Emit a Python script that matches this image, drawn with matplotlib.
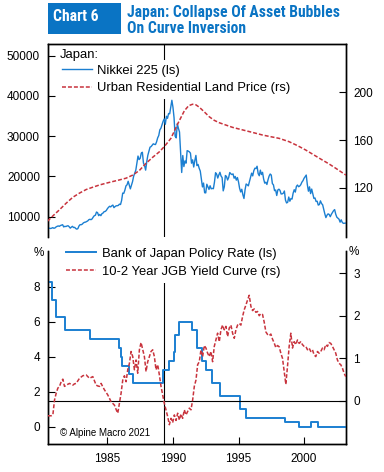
import os
import matplotlib
matplotlib.use("Agg")
import matplotlib.pyplot as plt
from matplotlib import font_manager as fm
from matplotlib.patches import Rectangle
import numpy as np

names = {f.name for f in fm.fontManager.ttflist}
BASE = "Liberation Sans" if "Liberation Sans" in names else "DejaVu Sans"
plt.rcParams['font.family'] = [BASE, 'DejaVu Sans']


def find_condensed_bold():
    files = set(f.fname for f in fm.fontManager.ttflist)
    try:
        files |= set(fm.findSystemFonts())
    except Exception:
        pass
    files = sorted(files)
    prefs = ["liberationsansnarrow-bold.", "notosans-condensedbold.", "opensans-condensedbold.",
             "opensans_condensed-bold.", "robotocondensed-bold.", "roboto-condensedbold.",
             "notosans-semicondensedbold.", "opensans-semicondensedbold.",
             "dejavusanscondensed-bold."]
    for p in prefs:
        for fn in files:
            if os.path.basename(fn).lower().startswith(p):
                return fn
    for fn in files:
        b = os.path.basename(fn).lower()
        if ("narrow" in b or "condensed" in b) and "bold" in b and "semibold" not in b \
                and "extra" not in b and "italic" not in b and "oblique" not in b:
            return fn
    return None


COND_FILE = find_condensed_bold()

# ---------------- data ----------------
# Nikkei 225, monthly from June 1980 to March 2003
nikkei = [
    7000, 7080, 7130, 7060, 7150, 7280, 7116,
    7200, 7450, 7600, 7700, 7600, 7800, 7900, 8000, 7450, 7600, 7550, 7682,
    7750, 7500, 7150, 7400, 7600, 7300, 7350, 7050, 6900, 7050, 7700, 8017,
    8000, 8150, 8450, 8600, 8650, 8800, 8950, 9250, 9350, 9250, 9450, 9894,
    10250, 10350, 11150, 11000, 10250, 10550, 10250, 10750, 10900, 11250, 11300, 11543,
    11990, 12320, 12580, 12430, 12700, 12880, 12240, 12510, 12700, 12720, 12800, 13113,
    13020, 14030, 15860, 15800, 16600, 17650, 17930, 18790, 17850, 16910, 17850, 18701,
    20030, 20770, 21570, 23270, 25060, 24180, 24490, 25780, 26010, 23330, 22690, 21564,
    23620, 25240, 26260, 27260, 27420, 27770, 28100, 27970, 27920, 28590, 29580, 30159,
    31580, 31990, 32840, 33710, 34270, 32950, 34950, 34430, 35640, 35550, 37270, 38916,
    37190, 34590, 29980, 29580, 33130, 31940, 31040, 25980, 20980, 25190, 22450, 23849,
    23290, 26410, 26290, 26110, 25790, 23290, 24120, 22340, 23920, 25220, 22690, 22984,
    22020, 21340, 19350, 17390, 18350, 15950, 15910, 18060, 17400, 16770, 17680, 16925,
    17020, 16950, 18590, 20920, 20550, 19590, 20380, 21030, 20110, 19700, 16410, 17417,
    20230, 19990, 19110, 19730, 20970, 20640, 20460, 20630, 19560, 19990, 19080, 19723,
    18650, 17050, 16140, 16810, 15440, 14520, 16680, 18120, 17910, 17650, 18740, 19868,
    20810, 20130, 21410, 22040, 21960, 22530, 20690, 20170, 21560, 20470, 21020, 19361,
    18330, 18560, 18000, 19150, 20070, 20600, 20330, 18230, 17890, 16460, 16630, 15259,
    16630, 16830, 16530, 15640, 15670, 15830, 16380, 14110, 13410, 13560, 14880, 13842,
    14500, 14370, 15840, 16700, 16110, 17530, 17860, 17440, 17600, 17940, 18560, 18934,
    19540, 19960, 20340, 17970, 16330, 17410, 15730, 16860, 15750, 14540, 14650, 13786,
    13840, 12880, 13000, 13930, 13260, 12970, 11860, 10710, 9770, 10370, 10700, 10543,
    10000, 10590, 11025, 11490, 11760, 10620, 9880, 9620, 9380, 8640, 9220, 8579,
    8340, 8360, 8400,
]
nikkei_start = 1980 + 5 / 12.0
nikkei_dates = nikkei_start + np.arange(len(nikkei)) / 12.0

# Urban residential land price index
land_dates = [1980.43, 1980.9, 1981.34, 1981.85, 1982.36, 1982.87, 1983.38, 1983.9,
              1984.39, 1984.9, 1985.41, 1985.9, 1986.42, 1986.93, 1987.44, 1987.95,
              1988.45, 1988.95, 1989.34, 1989.85, 1990.36, 1990.87, 1991.2, 1991.5,
              1991.75, 1992.01, 1992.4, 1992.77, 1993.15, 1993.53, 1994.05, 1994.55,
              1995.05, 1995.56, 1996.2, 1996.83, 1997.45, 1998.1, 1998.86, 1999.5,
              2000.13, 2000.75, 2001.4, 2001.9, 2002.42, 2002.8, 2003.2]
land = [92, 97, 101.5, 107, 112, 115.5, 118.5, 120.5,
        122.3, 123.8, 125.2, 126.5, 128, 130.6, 134.5, 140.5,
        145.5, 150, 154.5, 161.5, 173.5, 184.5, 188.8, 190,
        189.5, 187.5, 183.5, 179.5, 176.5, 174.5, 172.5, 170.6,
        169.2, 167.8, 166, 164.2, 162.8, 161.4, 158.6, 155.3,
        151.6, 147.5, 143.2, 140, 136.3, 133.5, 130.6]

# Bank of Japan policy rate (step changes)
policy_dates = [1980.43, 1980.5, 1980.77, 1981.09, 1981.78, 1983.68, 1985.89, 1986.02,
                1986.15, 1986.62, 1986.98, 1989.23, 1989.7, 1990.05, 1990.18, 1990.49,
                1991.43, 1991.81, 1992.19, 1992.49, 1992.95, 1993.56, 1995.11, 1995.56,
                1998.56, 1999.63, 2000.51, 2001.05, 2003.2]
policy = [9.0, 8.25, 7.25, 6.25, 5.5, 5.0, 4.5, 4.0,
          3.5, 3.0, 2.5, 3.25, 3.75, 4.25, 5.25, 6.0,
          5.5, 4.5, 3.75, 3.25, 2.5, 1.75, 1.0, 0.5,
          0.25, 0.0, 0.25, 0.0, 0.0]

# 10-2 year JGB yield curve, sampled every ~1.5 months from 1980.46
yc_start, yc_step = 1980.458, 0.12694
yc = [-0.35, -0.35, -0.35, -0.33, 0.02, 0.18, 0.30, 0.34, 0.45, 0.51,
      0.34, 0.37, 0.39, 0.41, 0.39, 0.37, 0.40, 0.41, 0.47, 0.53,
      0.56, 0.59, 0.60, 0.61, 0.57, 0.53, 0.55, 0.57, 0.47, 0.37,
      0.35, 0.34, 0.41, 0.33, 0.26, 0.20, 0.14, 0.06, -0.02, -0.06,
      -0.10, -0.20, -0.29, -0.06, 0.18, 0.49, 0.59, 0.45, 0.73, 0.88,
      1.16, 1.04, 0.73, 0.96, 0.65, 1.20, 1.37, 1.20, 1.04, 0.69,
      0.92, 1.04, 1.16, 1.20, 1.04, 0.73, 0.85, 0.61, 0.34, 0.14,
      -0.06, -0.21, -0.37, -0.56, -0.41, -0.51, -0.33, -0.46, -0.29, -0.45,
      -0.31, -0.41, -0.21, -0.33, -0.25, -0.17, -0.21, 0.02, 0.34, 0.49,
      0.85, 0.92, 1.20, 1.04, 1.30, 1.24, 1.12, 1.04, 1.16, 0.92,
      1.28, 1.43, 1.59, 1.39, 1.67, 1.78, 1.67, 1.75, 1.51, 1.71,
      1.78, 1.59, 1.47, 1.67, 1.78, 1.82, 1.78, 1.98, 2.14, 2.25,
      2.37, 2.48, 2.22, 2.12, 2.16, 2.08, 2.10, 2.00, 2.05, 2.03,
      1.85, 1.62, 1.56, 1.53, 1.57, 1.45, 1.36, 1.25, 1.30, 1.27,
      1.12, 1.00, 0.70, 0.39, 0.81, 1.28, 1.59, 1.24, 1.39, 1.32,
      1.43, 1.35, 1.39, 1.32, 1.28, 1.28, 1.20, 1.24, 1.16, 1.20,
      1.08, 1.04, 1.16, 1.12, 1.16, 1.24, 1.20, 1.32, 1.28, 1.37,
      1.35, 1.28, 1.20, 1.12, 0.96, 0.88, 0.85, 0.77, 0.65, 0.57]
yc_dates = yc_start + yc_step * np.arange(len(yc))

inversion_date = 1989.34
xticks = [1985, 1990, 1995, 2000]
top_left_ticks = [10000, 20000, 30000, 40000, 50000]
top_right_ticks = [120, 160, 200]
bot_left_ticks = [0, 2, 4, 6, 8]
bot_right_ticks = [0, 1, 2, 3]

# ---------------- styling ----------------
BLUE = "#1b7fd1"
RED = "#c8333d"
TITLE_BLUE = "#0a74c4"
W, H = 384, 472
TICK_FS = 8.5
LEG_FS = 9.4

fig = plt.figure(figsize=(W / 100, H / 100), dpi=100)
L, R = 47.5, 346.0


def axrect(top, bottom):
    return [L / W, 1 - bottom / H, (R - L) / W, (bottom - top) / H]


ax1 = fig.add_axes(axrect(44, 237))
ax1r = ax1.twinx()
ax2 = fig.add_axes(axrect(251, 444.3))
ax2r = ax2.twinx()

dash = (0, (2.6, 1.3))

# top panel
l_nik, = ax1.plot(nikkei_dates, nikkei, color=BLUE, lw=1.0, zorder=3)
l_land, = ax1r.plot(land_dates, land, color=RED, lw=1.1, ls=dash, zorder=3)
ax1.axvline(inversion_date, color="black", lw=0.8, zorder=1)
ax1.set_xlim(1980.43, 2003.2)
ax1.set_ylim(4950, 52900)
ax1r.set_ylim(78.7, 240.5)
ax1.set_yticks(top_left_ticks)
ax1r.set_yticks(top_right_ticks)

# bottom panel
l_pol, = ax2.step(policy_dates, policy, where="post", color=BLUE, lw=1.4, zorder=3)
l_yc, = ax2r.plot(yc_dates, yc, color=RED, lw=1.1, ls=dash, zorder=3)
ax2.axvline(inversion_date, color="black", lw=0.8, zorder=1)
ax2r.axhline(0, color="black", lw=0.8, zorder=2)
ax2.set_xlim(1980.43, 2003.2)
ax2.set_ylim(-1.0, 10.04)
ax2r.set_ylim(-1.02, 3.52)
ax2.set_yticks(bot_left_ticks)
ax2r.set_yticks(bot_right_ticks)
ax2.set_xticks(xticks)

for a in (ax1, ax1r):
    a.spines["bottom"].set_visible(False)
    a.tick_params(axis="x", bottom=False, labelbottom=False, top=False)
for a in (ax2, ax2r):
    a.spines["top"].set_visible(False)
for a in (ax1, ax1r, ax2, ax2r):
    for s in a.spines.values():
        s.set_linewidth(1.0)
        s.set_color("black")
    a.tick_params(axis="y", direction="in", length=5, width=0.8,
                  labelsize=TICK_FS, pad=5.4)
ax2.tick_params(axis="x", direction="in", length=5, width=0.8,
                labelsize=TICK_FS, pad=6)

# legends
leg1 = ax1.legend([l_nik, l_land], ["Nikkei 225 (ls)", "Urban Residential Land Price (rs)"],
                  loc="upper left", bbox_to_anchor=(0.031, 0.919), borderaxespad=0,
                  fontsize=LEG_FS, frameon=True, facecolor="white", edgecolor="none",
                  framealpha=1, fancybox=False, handlelength=2.3, handletextpad=0.36,
                  labelspacing=0.38, borderpad=0.4)
leg1.set_zorder(2)
ax1.text(0.042, 0.943, "Japan:", transform=ax1.transAxes, fontsize=LEG_FS,
         ha="left", va="center")

leg2 = ax2.legend([l_pol, l_yc], ["Bank of Japan Policy Rate (ls)", "10-2 Year JGB Yield Curve (rs)"],
                  loc="upper left", bbox_to_anchor=(0.0446, 1.045), borderaxespad=0,
                  fontsize=LEG_FS, frameon=True, facecolor="white", edgecolor="none",
                  framealpha=1, fancybox=False, handlelength=2.3, handletextpad=0.44,
                  labelspacing=0.46, borderpad=0.4)
leg2.set_zorder(2)

ax2.text((60 - L) / (R - L), (444.3 - 433) / 193.3, "\u00a9 Alpine Macro 2021",
         transform=ax2.transAxes, fontsize=7, ha="left", va="center")

# percent labels
fig.text(39 / W, 1 - 253 / H, "%", fontsize=TICK_FS, ha="center", va="center")
fig.text(349 / W, 1 - 252 / H, "%", fontsize=TICK_FS, ha="left", va="center")

# title block
fig.patches.append(Rectangle((47.7 / W, 1 - 34.3 / H), (120.7 - 47.7) / W, 31 / H,
                             transform=fig.transFigure, facecolor=TITLE_BLUE,
                             edgecolor="none"))


def title_props(size):
    if COND_FILE:
        return dict(fontproperties=fm.FontProperties(fname=COND_FILE, size=size))
    return dict(fontsize=size, fontweight="bold", family=[BASE, "DejaVu Sans"])


t_chart = fig.text(52.7 / W, 1 - 20.7 / H, "Chart 6", color="white",
                   ha="left", va="baseline", **title_props(11.5))
t1 = fig.text(126.7 / W, 1 - 16.7 / H, "Japan: Collapse Of Asset Bubbles", color=TITLE_BLUE,
              ha="left", va="baseline", **title_props(11.5))
t2 = fig.text(126.7 / W, 1 - 33.3 / H, "On Curve Inversion", color=TITLE_BLUE,
              ha="left", va="baseline", **title_props(11.5))

# fit title font size to the reference width (213 px for the first line)
renderer = fig.canvas.get_renderer()
w1 = t1.get_window_extent(renderer).width
size = min(12.0, 11.5 * 213.0 / w1)
for t in (t_chart, t1, t2):
    t.set_fontsize(size)

fig.savefig("out.png", dpi=100)
